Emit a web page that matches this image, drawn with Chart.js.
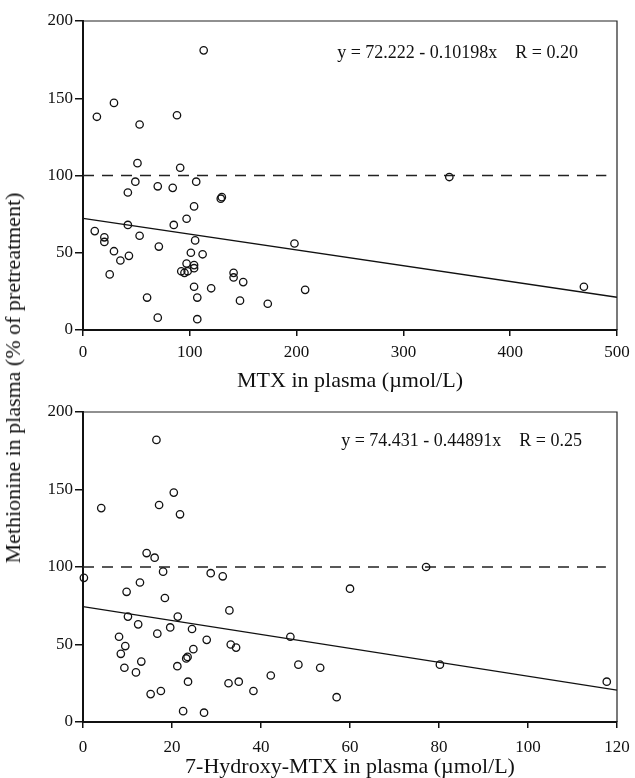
<!DOCTYPE html>
<html>
<head>
<meta charset="utf-8">
<script src="https://cdn.jsdelivr.net/npm/chart.js@4"></script>
<style>
  body { margin: 0; background: #fff; }
  #wrap { position: relative; width: 635px; height: 778px; }
  #topChart { position: absolute; left: 0; top: 0; }
  #bottomChart { position: absolute; left: 0; top: 395px; }
  #yTitle {
    position: absolute; left: 13px; top: 378px;
    transform: translate(-50%, -50%) rotate(-90deg);
    white-space: nowrap; font: 22px "Liberation Serif"; color: #111;
  }
</style>
</head>
<body>
<div id="wrap">
  <canvas id="topChart" width="635" height="395"></canvas>
  <canvas id="bottomChart" width="635" height="383"></canvas>
  <div id="yTitle">Methionine in plasma (% of pretreatment)</div>
</div>
<script>
// methionine vs MTX (top panel)
var mtxX = [113, 13, 29, 88, 53, 51, 91, 106, 49, 70, 84, 42, 129, 130, 104, 97, 42, 85, 11, 53,
            20, 20, 105, 198, 71, 29, 101, 112, 43, 35, 97, 104, 104, 92, 98, 95, 141, 141, 150, 25,
            104, 120, 208, 60, 107, 147, 173, 70, 107, 343, 469];
var mtxY = [181, 138, 147, 139, 133, 108, 105, 96, 96, 93, 92, 89, 85, 86, 80, 72, 68, 68, 64, 61,
            60, 57, 58, 56, 54, 51, 50, 49, 48, 45, 43, 42, 40, 38, 38, 37, 37, 34, 31, 36,
            28, 27, 26, 21, 21, 19, 17, 8, 7, 99, 28];
var mtxFitX = [0, 500];
var mtxFitY = [72.2, 21.2];
var mtxRefX = [0, 490];

// methionine vs 7-hydroxy-MTX (bottom panel)
var ohX = [0.2, 4.1, 16.5, 20.4, 17.1, 21.8, 14.3, 16.1, 18, 28.7, 31.4, 12.8, 9.8, 18.4, 32.9, 10.1, 21.3, 12.4, 19.6, 24.5,
           8.1, 46.6, 16.7, 27.8, 9.5, 33.2, 34.4, 24.8, 8.5, 23.5, 23.2, 13.1, 48.4, 53.3, 9.3, 21.2, 11.9, 42.2, 23.6, 32.7,
           35, 38.3, 17.5, 15.2, 57, 22.5, 27.2, 60, 77.1, 80.2, 117.7];
var ohY = [93, 138, 182, 148, 140, 134, 109, 106, 97, 96, 94, 90, 84, 80, 72, 68, 68, 63, 61, 60,
           55, 55, 57, 53, 49, 50, 48, 47, 44, 42, 41, 39, 37, 35, 35, 36, 32, 30, 26, 25,
           26, 20, 20, 18, 16, 7, 6, 86, 100, 37, 26];
var ohFitX = [0, 120];
var ohFitY = [74.4, 20.6];
var ohRefX = [0, 117.5];

var refY = 100;

function pairs(xs, ys) {
    return xs.map(function (x, i) { return { x: x, y: ys[i] }; });
}

// thin top/right frame plus the regression text
var framePlugin = {
    id: 'frame',
    afterDatasetsDraw: function (chart, args, opts) {
        var ctx = chart.ctx, a = chart.chartArea;
        ctx.save();
        ctx.strokeStyle = '#222';
        ctx.lineWidth = 1.2;
        ctx.beginPath();
        ctx.moveTo(a.left, a.top);
        ctx.lineTo(a.right, a.top);
        ctx.lineTo(a.right, a.bottom);
        ctx.stroke();
        ctx.font = '18px "Liberation Serif"';
        ctx.fillStyle = '#111';
        ctx.textAlign = 'right';
        ctx.textBaseline = 'middle';
        ctx.fillText(opts.text, a.right - opts.dx, a.top + opts.dy);
        ctx.restore();
    }
};

function makeChart(id, cfg) {
    var ctx = document.getElementById(id).getContext('2d');
    return new Chart(ctx, {
        type: 'scatter',
        data: {
            datasets: [
                {
                    data: pairs(cfg.xs, cfg.ys),
                    pointStyle: 'circle',
                    pointRadius: 3.7,
                    borderColor: '#111',
                    borderWidth: 1.3,
                    backgroundColor: 'rgba(255,255,255,0)',
                    clip: false
                },
                {
                    data: pairs(cfg.refX, [refY, refY]),
                    showLine: true,
                    borderColor: '#222',
                    borderWidth: 1.3,
                    borderDash: [11, 8],
                    pointRadius: 0
                },
                {
                    data: pairs(cfg.fitX, cfg.fitY),
                    showLine: true,
                    borderColor: '#111',
                    borderWidth: 1.3,
                    pointRadius: 0
                }
            ]
        },
        options: {
            responsive: false,
            animation: false,
            layout: { padding: { top: cfg.padTop, right: 18, left: 0, bottom: 0 } },
            plugins: {
                legend: { display: false },
                tooltip: { enabled: false },
                frame: { text: cfg.eq, dx: cfg.eqDx, dy: cfg.eqDy }
            },
            scales: {
                x: {
                    type: 'linear',
                    min: 0,
                    max: cfg.xMax,
                    afterFit: function (scale) {
                        scale.height = cfg.xAxisH;
                        scale.paddingLeft = 0;
                        scale.paddingRight = 0;
                    },
                    border: { display: true, color: '#111', width: 2 },
                    grid: { drawOnChartArea: false, drawTicks: true, tickLength: 6, color: '#111', lineWidth: 1.5 },
                    ticks: {
                        stepSize: cfg.xStep,
                        padding: cfg.tickPad,
                        color: '#111',
                        font: { family: 'Liberation Serif', size: 17 }
                    },
                    title: {
                        display: true,
                        text: cfg.xTitle,
                        color: '#111',
                        font: { family: 'Liberation Serif', size: 22, lineHeight: 1 },
                        padding: { top: 0, bottom: cfg.titlePad }
                    }
                },
                y: {
                    min: 0,
                    max: 200,
                    afterFit: function (scale) { scale.width = 83; },
                    border: { display: true, color: '#111', width: 2 },
                    grid: { drawOnChartArea: false, drawTicks: true, tickLength: 8, color: '#111', lineWidth: 1.5 },
                    ticks: {
                        stepSize: 50,
                        padding: 2,
                        color: '#111',
                        font: { family: 'Liberation Serif', size: 17 }
                    }
                }
            }
        },
        plugins: [framePlugin]
    });
}

makeChart('topChart', {
    xs: mtxX, ys: mtxY, fitX: mtxFitX, fitY: mtxFitY, refX: mtxRefX,
    xMax: 500, xStep: 100, xTitle: 'MTX in plasma (\u00b5mol/L)',
    padTop: 21, xAxisH: 65, tickPad: 6, titlePad: 3,
    eq: 'y = 72.222 - 0.10198x    R = 0.20', eqDx: 39, eqDy: 32
});

makeChart('bottomChart', {
    xs: ohX, ys: ohY, fitX: ohFitX, fitY: ohFitY, refX: ohRefX,
    xMax: 120, xStep: 20, xTitle: '7-Hydroxy-MTX in plasma (\u00b5mol/L)',
    padTop: 17, xAxisH: 56, tickPad: 9, titlePad: 0,
    eq: 'y = 74.431 - 0.44891x    R = 0.25', eqDx: 35, eqDy: 29
});
</script>
</body>
</html>
